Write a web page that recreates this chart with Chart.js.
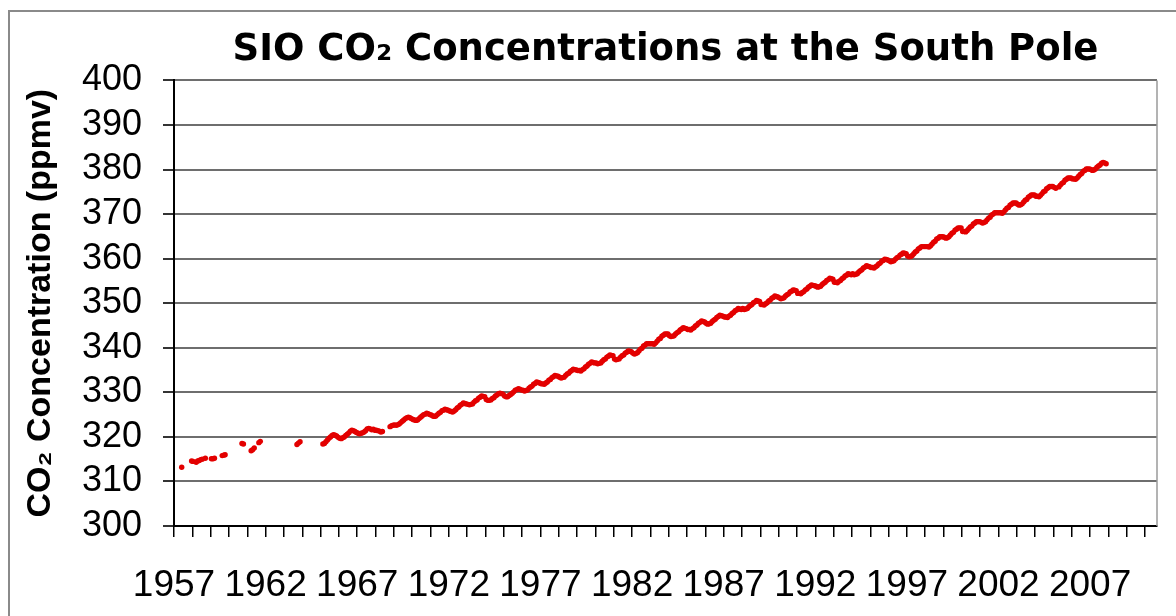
<!DOCTYPE html>
<html>
<head>
<meta charset="utf-8">
<script src="https://cdn.jsdelivr.net/npm/chart.js@4.4.1/dist/chart.umd.min.js"></script>
<style>
  html, body { margin: 0; padding: 0; background: #fff; }
  #wrap { width: 1176px; height: 616px; position: relative; }
</style>
</head>
<body>
<div id="wrap"><canvas id="chart"></canvas></div>
<script>
// sparse early flask samples (decimal year, ppmv)
const earlyYears = [1957.42, 1957.96, 1958.04, 1958.21, 1958.29, 1958.38, 1958.46, 1958.54, 1958.71,
    1959.04, 1959.13, 1959.21, 1959.63, 1959.71, 1959.79, 1960.71, 1960.79,
    1961.21, 1961.29, 1961.38, 1961.63, 1961.71, 1963.71, 1963.79, 1963.88];
const earlyPpmv = [313.2, 314.6, 314.5, 314.3, 314.6, 314.7, 314.9, 315.0, 315.2,
    315.1, 315.1, 315.2, 315.8, 315.9, 316.0, 318.5, 318.4,
    316.9, 317.1, 317.5, 318.7, 319.0, 318.3, 318.6, 318.9];

// monthly record, Jan..Dec, one row per year
const monthlyYears = [1965, 1966, 1967, 1968, 1969, 1970, 1971, 1972, 1973, 1974, 1975, 1976, 1977, 1978,
    1979, 1980, 1981, 1982, 1983, 1984, 1985, 1986, 1987, 1988, 1989, 1990, 1991, 1992, 1993, 1994,
    1995, 1996, 1997, 1998, 1999, 2000, 2001, 2002, 2003, 2004, 2005, 2006, 2007];
const monthlyPpmv = [
    [null, 318.4, 318.5, 318.9, 319.3, 319.7, 320.0, 320.3, 320.5, 320.4, 320.2, 319.9],
    [319.7, 319.6, 319.8, 320.0, 320.3, 320.6, 320.9, 321.3, 321.5, 321.4, 321.2, 321.0],
    [320.8, 320.7, 320.8, 320.9, 321.1, 321.4, 321.8, 321.9, 321.8, 321.6, 321.7, 321.5],
    [321.5, 321.4, 321.3, 321.1, 321.2, null, null, null, null, 322.3, 322.5, 322.6],
    [322.7, 322.6, 322.7, 322.9, 323.2, 323.5, 323.8, 324.1, 324.3, 324.4, 324.3, 324.1],
    [323.9, 323.8, 323.7, 323.8, 324.1, 324.4, 324.7, 325.0, 325.1, 325.3, 325.2, 325.0],
    [324.9, 324.7, 324.6, 324.7, 325.0, 325.3, 325.5, 325.9, 326.0, 326.2, 326.1, 326.0],
    [325.8, 325.7, 325.6, 325.8, 326.1, 326.5, 326.7, 327.1, 327.3, 327.6, 327.5, 327.4],
    [327.3, 327.2, 327.3, 327.4, 327.8, 328.1, 328.3, 328.7, 328.9, 329.2, 329.1, 329.0],
    [328.4, 328.2, 328.2, 328.3, 328.6, 328.8, 329.2, 329.4, 329.7, 329.8, 329.7, 329.6],
    [329.2, 329.0, 329.0, 329.3, 329.5, 329.8, 330.1, 330.5, 330.6, 330.8, 330.7, 330.5],
    [330.5, 330.3, 330.4, 330.5, 330.9, 331.2, 331.4, 331.8, 332.0, 332.3, 332.2, 332.1],
    [331.9, 331.9, 331.8, 332.1, 332.3, 332.7, 332.9, 333.3, 333.5, 333.8, 333.7, 333.6],
    [333.4, 333.2, 333.3, 333.4, 333.8, 334.1, 334.3, 334.7, 334.9, 335.2, 335.1, 335.0],
    [334.9, 334.9, 334.8, 335.1, 335.3, 335.7, 335.9, 336.3, 336.5, 336.8, 336.7, 336.6],
    [336.6, 336.4, 336.5, 336.6, 337.0, 337.3, 337.5, 337.9, 338.1, 338.4, 338.3, 338.2],
    [337.5, 337.3, 337.4, 337.5, 337.9, 338.2, 338.4, 338.8, 339.0, 339.3, 339.2, 339.1],
    [338.8, 338.6, 338.7, 338.9, 339.3, 339.7, 339.9, 340.4, 340.6, 340.9, 340.9, 340.9],
    [340.9, 340.9, 340.8, 341.1, 341.5, 341.9, 342.1, 342.6, 342.8, 343.1, 343.1, 343.1],
    [342.7, 342.5, 342.6, 342.7, 343.1, 343.4, 343.6, 344.0, 344.2, 344.5, 344.4, 344.3],
    [344.1, 344.1, 344.0, 344.3, 344.5, 344.9, 345.1, 345.5, 345.7, 346.0, 345.9, 345.8],
    [345.5, 345.3, 345.4, 345.5, 345.9, 346.2, 346.4, 346.8, 347.0, 347.3, 347.2, 347.1],
    [346.9, 346.9, 346.8, 347.1, 347.3, 347.7, 347.9, 348.3, 348.5, 348.8, 348.7, 348.6],
    [348.8, 348.6, 348.7, 348.8, 349.2, 349.5, 349.7, 350.1, 350.3, 350.6, 350.5, 350.4],
    [349.7, 349.7, 349.6, 349.9, 350.1, 350.5, 350.7, 351.1, 351.3, 351.6, 351.5, 351.4],
    [351.2, 351.0, 351.1, 351.2, 351.6, 351.9, 352.1, 352.5, 352.7, 353.0, 352.9, 352.8],
    [352.2, 352.2, 352.1, 352.4, 352.6, 353.0, 353.2, 353.6, 353.8, 354.1, 354.0, 353.9],
    [353.8, 353.6, 353.7, 353.8, 354.2, 354.5, 354.7, 355.1, 355.3, 355.6, 355.5, 355.4],
    [354.7, 354.7, 354.6, 354.9, 355.1, 355.5, 355.7, 356.1, 356.3, 356.6, 356.5, 356.4],
    [356.6, 356.4, 356.5, 356.6, 357.0, 357.3, 357.5, 357.9, 358.1, 358.4, 358.3, 358.2],
    [358.0, 358.0, 357.9, 358.2, 358.4, 358.8, 359.0, 359.4, 359.6, 359.9, 359.8, 359.7],
    [359.5, 359.3, 359.4, 359.5, 359.9, 360.2, 360.4, 360.8, 361.0, 361.3, 361.2, 361.1],
    [360.6, 360.4, 360.5, 360.7, 361.1, 361.5, 361.7, 362.2, 362.4, 362.7, 362.7, 362.7],
    [362.7, 362.7, 362.6, 362.9, 363.3, 363.7, 363.9, 364.4, 364.6, 364.9, 364.9, 364.9],
    [364.8, 364.6, 364.7, 364.9, 365.3, 365.7, 365.9, 366.4, 366.6, 366.9, 366.9, 366.9],
    [366.1, 366.1, 366.0, 366.3, 366.7, 367.1, 367.3, 367.8, 368.0, 368.3, 368.3, 368.3],
    [368.2, 368.0, 368.1, 368.3, 368.7, 369.1, 369.3, 369.8, 370.0, 370.3, 370.3, 370.3],
    [370.3, 370.3, 370.2, 370.5, 370.9, 371.3, 371.5, 372.0, 372.2, 372.5, 372.5, 372.5],
    [372.2, 372.0, 372.1, 372.3, 372.7, 373.1, 373.3, 373.8, 374.0, 374.3, 374.3, 374.3],
    [374.0, 374.0, 373.9, 374.2, 374.6, 375.0, 375.2, 375.7, 375.9, 376.2, 376.2, 376.2],
    [376.0, 375.8, null, 376.1, 376.5, 376.9, 377.1, 377.6, 377.8, 378.1, 378.1, 378.1],
    [377.9, 377.9, 377.8, 378.1, 378.5, 378.9, 379.1, 379.6, 379.8, 380.1, 380.1, 380.1],
    [380.0, 379.8, 379.9, 380.1, 380.5, 380.8, 381.0, 381.4, 381.6, 381.5, 381.3, null]
];

const yTicks = [300, 310, 320, 330, 340, 350, 360, 370, 380, 390, 400];
const firstYear = 1957;
const lastTickYear = 2010;

// build the point list
const points = [];
earlyYears.forEach((yr, i) => points.push({ x: yr, y: earlyPpmv[i] }));
monthlyYears.forEach((yr, r) => {
    monthlyPpmv[r].forEach((v, m) => {
        if (v !== null) points.push({ x: yr + (m + 0.5) / 12, y: v });
    });
});

const yearTicks = [];
for (let y = firstYear; y <= lastTickYear; y++) yearTicks.push(y);

// outer frame and right edge of the plot
const framePlugin = {
    id: 'frame',
    afterDraw(chart) {
        const c = chart.ctx, a = chart.chartArea;
        c.save();
        c.strokeStyle = '#8a8a8a';
        c.lineWidth = 2;
        c.beginPath();
        c.moveTo(9, 620);
        c.lineTo(9, 11);
        c.lineTo(1176, 11);
        c.stroke();
        c.strokeStyle = '#9a9a9a';
        c.lineWidth = 1.5;
        c.beginPath();
        c.moveTo(a.right, a.top);
        c.lineTo(a.right, a.bottom);
        c.stroke();
        c.restore();
    }
};

new Chart(document.getElementById('chart'), {
    type: 'scatter',
    data: {
        datasets: [{
            label: 'South Pole CO2',
            data: points,
            backgroundColor: '#e30000',
            borderWidth: 0,
            pointRadius: 2.7,
            pointHoverRadius: 2.7
        }]
    },
    options: {
        responsive: true,
        maintainAspectRatio: false,
        animation: false,
        layout: { padding: { left: 16, right: 19, top: 10, bottom: 0 } },
        plugins: {
            legend: { display: false },
            tooltip: { enabled: false },
            title: {
                display: true,
                fullSize: false,
                text: 'SIO CO\u2082 Concentrations at the South Pole',
                color: '#000',
                font: { family: 'DejaVu Sans', size: 37, weight: 'bold' },
                padding: { top: 18, bottom: 8 }
            }
        },
        scales: {
            x: {
                type: 'linear',
                min: firstYear,
                max: 2010.65,
                afterBuildTicks: (s) => { s.ticks = yearTicks.map(v => ({ value: v })); },
                afterFit: (s) => { s.height = 90; },
                border: { color: '#000', width: 2 },
                grid: { drawOnChartArea: false, color: '#000', tickLength: 11, lineWidth: 1.5 },
                ticks: {
                    autoSkip: false,
                    maxRotation: 0,
                    minRotation: 0,
                    padding: 27,
                    color: '#000',
                    font: { family: 'Liberation Sans', size: 37 },
                    callback: (v) => ((v - firstYear) % 5 === 0 ? String(v) : '')
                }
            },
            y: {
                min: 300,
                max: 400,
                afterBuildTicks: (s) => { s.ticks = yTicks.map(v => ({ value: v })); },
                afterFit: (s) => { s.width = 158; },
                border: { color: '#000', width: 2 },
                grid: { color: '#6e6e6e', lineWidth: 2, tickLength: 11, tickColor: '#333' },
                ticks: {
                    autoSkip: false,
                    padding: 21,
                    color: '#000',
                    font: { family: 'Liberation Sans', size: 36 }
                },
                title: {
                    display: true,
                    text: 'CO\u2082 Concentration (ppmv)',
                    color: '#000',
                    font: { family: 'Liberation Sans', size: 34, weight: 'bold' },
                    padding: { top: 4, bottom: 4 }
                }
            }
        }
    },
    plugins: [framePlugin]
});
</script>
</body>
</html>
